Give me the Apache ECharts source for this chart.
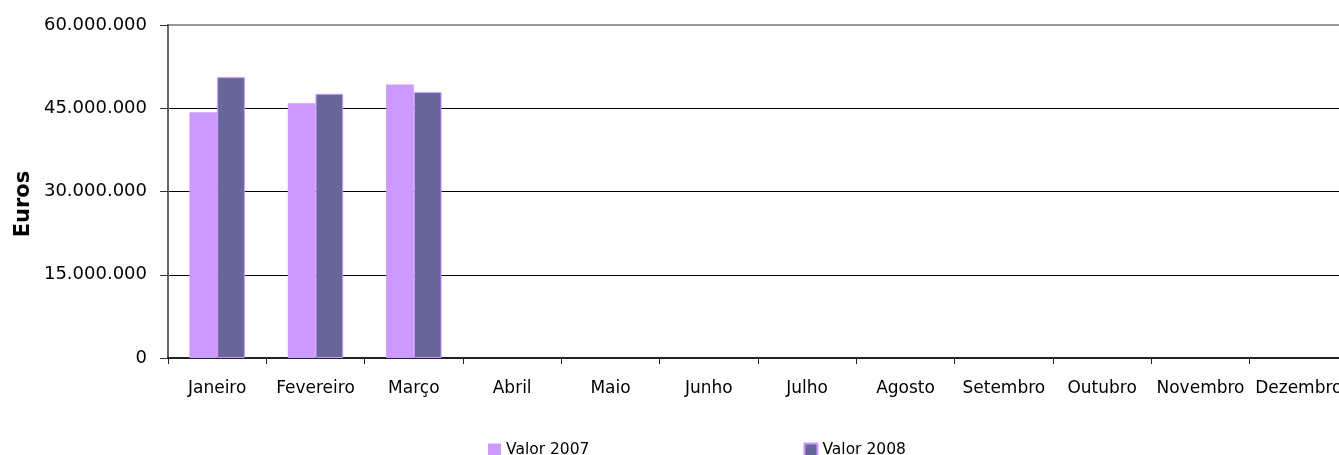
<!DOCTYPE html>
<html>
<head>
<meta charset="utf-8">
<script src="https://cdn.jsdelivr.net/npm/echarts@6/dist/echarts.min.js"></script>
<style>
  html, body { margin: 0; padding: 0; background: #fff; }
  #chart { width: 1339px; height: 455px; }
</style>
</head>
<body>
<div id="chart"></div>
<script>
const months = [
  "Janeiro", "Fevereiro", "Março", "Abril", "Maio", "Junho",
  "Julho", "Agosto", "Setembro", "Outubro", "Novembro", "Dezembro",
];
// only the first quarter has values
const valor2007 = [44300000, 45900000, 49300000, null, null, null, null, null, null, null, null, null];
const valor2008 = [50600000, 47600000, 47900000, null, null, null, null, null, null, null, null, null];
const seriesNames = ["Valor 2007", "Valor 2008"];
const axisTitle = "Euros";

const fontFamily = "'DejaVu Sans', Verdana, sans-serif";

const fmtEuro = (v) => String(v).replace(/\B(?=(\d{3})+(?!\d))/g, ".");

const chart = echarts.init(document.getElementById("chart"), null, { renderer: "canvas" });

const option = {
  backgroundColor: "#fff",
  animation: false,
  textStyle: { fontFamily },
  grid: {
    left: 168,
    top: 25,
    width: 1180,
    height: 333,
    outerBoundsMode: "none",
    containLabel: false,
    show: true,
    borderColor: "#999",
    borderWidth: 2,
    backgroundColor: "transparent",
  },
  legend: {
    data: seriesNames,
    left: 483,
    top: 437,
    itemWidth: 13,
    itemHeight: 13,
    itemGap: 214,
    icon: "rect",
    textStyle: { fontSize: 15.5, color: "#000", fontFamily },
  },
  graphic: [
    {
      type: "text",
      x: 24,
      y: 204,
      rotation: Math.PI / 2,
      style: {
        text: axisTitle,
        fontSize: 21,
        fontWeight: "bold",
        fill: "#000",
        fontFamily,
        align: "center",
        verticalAlign: "middle",
      },
    },
  ],
  xAxis: {
    type: "category",
    data: months,
    axisLine: { lineStyle: { color: "#222", width: 2 } },
    axisTick: { show: true, length: 6, lineStyle: { color: "#222" } },
    axisLabel: { color: "#000", fontSize: 17, margin: 22, interval: 0, fontFamily },
  },
  yAxis: {
    type: "value",
    min: 0,
    max: 60000000,
    interval: 15000000,
    axisLine: { show: true, lineStyle: { color: "#666", width: 2 } },
    axisTick: { show: true, length: 8, lineStyle: { color: "#333" } },
    axisLabel: { color: "#000", fontSize: 18, margin: 21, formatter: fmtEuro, fontFamily },
    splitLine: {
      show: true,
      lineStyle: { color: ["#000", "#000", "#000", "#000", "#999"], width: 1 },
    },
  },
  series: [
    {
      name: seriesNames[0],
      type: "bar",
      data: valor2007,
      barGap: "0%",
      barCategoryGap: "43.6%",
      itemStyle: { color: "#CC99FF" },
    },
    {
      name: seriesNames[1],
      type: "bar",
      data: valor2008,
      barGap: "0%",
      barCategoryGap: "43.6%",
      itemStyle: { color: "#666699", borderColor: "#CC99FF", borderWidth: 1 },
    },
  ],
};

chart.setOption(option);
</script>
</body>
</html>
